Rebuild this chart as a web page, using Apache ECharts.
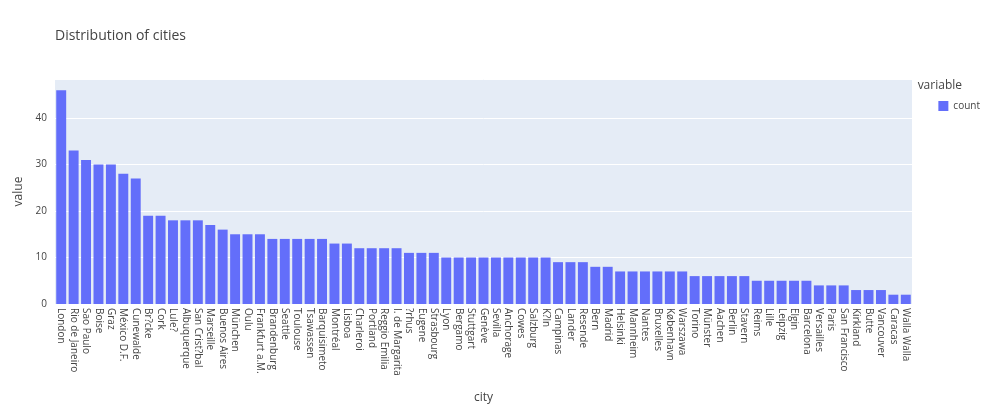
<!DOCTYPE html><html><head><meta charset="utf-8"><script src="https://cdn.jsdelivr.net/npm/echarts@6/dist/echarts.min.js"></script>
<style>body{margin:0}#c{width:1000px;height:409px}</style></head><body><div id="c"></div><script>
const cities=["London","Rio de Janeiro","Sao Paulo","Boise","Graz","México D.F.","Cunewalde","Br?cke","Cork","Lule?","Albuquerque","San Crist?bal","Marseille","Buenos Aires","München","Oulu","Frankfurt a.M.","Brandenburg","Seattle","Toulouse","Tsawassen","Barquisimeto","Montréal","Lisboa","Charleroi","Portland","Reggio Emilia","I. de Margarita","?rhus","Eugene","Strasbourg","Lyon","Bergamo","Stuttgart","Genève","Sevilla","Anchorage","Cowes","Salzburg","K?ln","Campinas","Lander","Resende","Bern","Madrid","Helsinki","Mannheim","Nantes","Bruxelles","København","Warszawa","Torino","Münster","Aachen","Berlin","Stavern","Reims","Lille","Leipzig","Elgin","Barcelona","Versailles","Paris","San Francisco","Kirkland","Butte","Vancouver","Caracas","Walla Walla"];
const counts=[46,33,31,30,30,28,27,19,19,18,18,18,17,16,15,15,15,14,14,14,14,14,13,13,12,12,12,12,11,11,11,10,10,10,10,10,10,10,10,10,9,9,9,8,8,7,7,7,7,7,7,6,6,6,6,6,5,5,5,5,5,4,4,4,3,3,3,2,2];
const yTicks=[0,10,20,30,40];
const c=echarts.init(document.getElementById('c'));
const f='"Open Sans", sans-serif';
c.setOption({
 title:{text:'Distribution of cities',left:50,top:24,textStyle:{fontFamily:f,fontSize:14,fontWeight:'normal',color:'#444'}},
 legend:{data:['count'],right:15,top:96,orient:'vertical',icon:'rect',itemWidth:10,itemHeight:10,textStyle:{fontFamily:f,fontSize:10,color:'#444'}},
 graphic:[{type:'text',right:38,top:80,style:{text:'variable',font:'12px "Open Sans"',fill:'#444'}}],
 grid:{left:55,right:88,top:79,bottom:105,backgroundColor:'#e5ecf6',show:true,borderWidth:0},
 xAxis:{type:'category',data:cities,name:'city',nameLocation:'middle',nameGap:88,nameTextStyle:{fontFamily:f,fontSize:12,color:'#444'},
  axisLine:{show:false},axisTick:{show:false},axisLabel:{interval:0,rotate:-90,fontFamily:f,fontSize:10,color:'#444',margin:4}},
 yAxis:{type:'value',min:0,max:48.4,interval:10,name:'value',nameLocation:'middle',nameGap:28,nameTextStyle:{fontFamily:f,fontSize:12,color:'#444'},
  axisLabel:{fontFamily:f,fontSize:10,color:'#444',formatter:v=>yTicks.includes(v)?v:''},splitLine:{lineStyle:{color:'#fff'}},axisLine:{show:false}},
 series:[{name:'count',type:'bar',data:counts,barCategoryGap:'20%',itemStyle:{color:'#636efa'}}]
});
</script></body></html>
